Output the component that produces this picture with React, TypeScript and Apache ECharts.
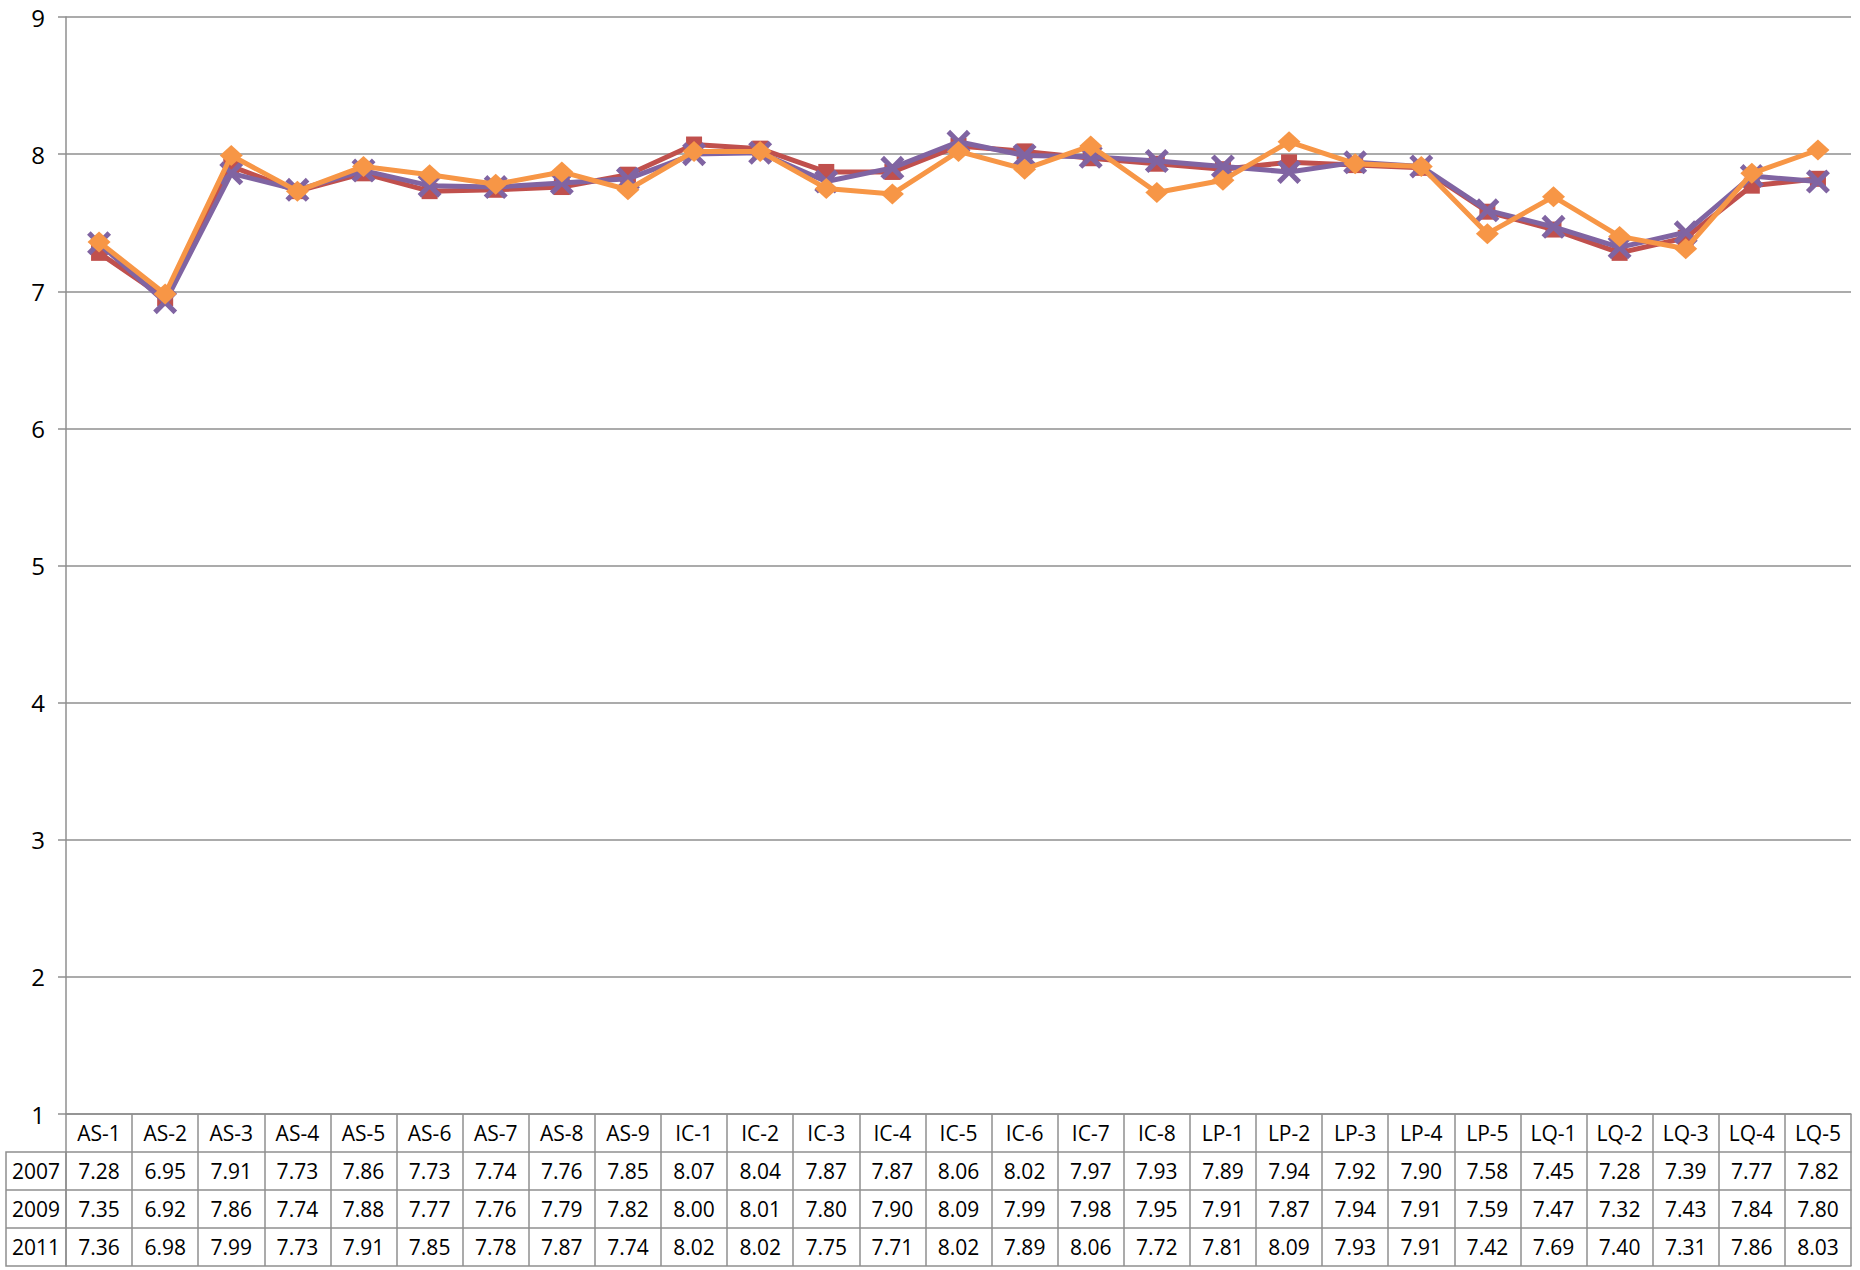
import React, { useEffect, useRef } from "react";
import * as echarts from "echarts";

const CATEGORIES = [
  "AS-1", "AS-2", "AS-3", "AS-4", "AS-5", "AS-6", "AS-7", "AS-8", "AS-9",
  "IC-1", "IC-2", "IC-3", "IC-4", "IC-5", "IC-6", "IC-7", "IC-8",
  "LP-1", "LP-2", "LP-3", "LP-4", "LP-5",
  "LQ-1", "LQ-2", "LQ-3", "LQ-4", "LQ-5",
];
const SERIES_NAMES = ["2007", "2009", "2011"];
const V2007 = [7.28, 6.95, 7.91, 7.73, 7.86, 7.73, 7.74, 7.76, 7.85, 8.07, 8.04, 7.87, 7.87, 8.06, 8.02, 7.97, 7.93, 7.89, 7.94, 7.92, 7.90, 7.58, 7.45, 7.28, 7.39, 7.77, 7.82];
const V2009 = [7.35, 6.92, 7.86, 7.74, 7.88, 7.77, 7.76, 7.79, 7.82, 8.00, 8.01, 7.80, 7.90, 8.09, 7.99, 7.98, 7.95, 7.91, 7.87, 7.94, 7.91, 7.59, 7.47, 7.32, 7.43, 7.84, 7.80];
const V2011 = [7.36, 6.98, 7.99, 7.73, 7.91, 7.85, 7.78, 7.87, 7.74, 8.02, 8.02, 7.75, 7.71, 8.02, 7.89, 8.06, 7.72, 7.81, 8.09, 7.93, 7.91, 7.42, 7.69, 7.40, 7.31, 7.86, 8.03];
const Y_MIN = 1;
const Y_MAX = 9;
const Y_INTERVAL = 1;

const SERIES_VALUES = [V2007, V2009, V2011];
const COLORS = ["#C0504D", "#8064A2", "#F79646"];
const X_PATH =
  "path://M1.5,0 L5,3.5 L8.5,0 L10,1.5 L6.5,5 L10,8.5 L8.5,10 L5,6.5 L1.5,10 L0,8.5 L3.5,5 L0,1.5 Z";
const SYMBOLS: any[] = ["rect", X_PATH, "diamond"];
const SYMBOL_SIZES: any[] = [16, 24, [23, 21]];

const W = 1860;
const H = 1270;
const GRID_LEFT = 66;
const GRID_RIGHT = 9;
const GRID_TOP = 17;
const GRID_BOTTOM = 156;
const ROW_H = 38;
const TABLE_LEFT = 6;
const LINE_COLOR = "#8f8f8f";
const FONT = "'Open Sans', 'Liberation Sans', sans-serif";
const TABLE_FONT_SIZE = 21;

export default function App() {
  const ref = useRef<HTMLDivElement>(null);

  useEffect(() => {
    if (!ref.current) return;
    const chart = echarts.init(ref.current, null, { renderer: "svg" });
    const axisBottomY = H - GRID_BOTTOM;

    const labelStyle = {
      interval: 0,
      margin: 0,
      lineHeight: ROW_H,
      fontSize: TABLE_FONT_SIZE,
      color: "#000",
      fontFamily: FONT,
    };

    const xAxes: any[] = [
      {
        type: "category",
        data: CATEGORIES,
        position: "bottom",
        gridIndex: 0,
        boundaryGap: true,
        axisLine: { show: true, lineStyle: { color: LINE_COLOR, width: 1.5 } },
        axisTick: {
          show: true,
          interval: 0,
          length: ROW_H * 4,
          lineStyle: { color: LINE_COLOR, width: 1.5 },
        },
        axisLabel: labelStyle,
        splitLine: { show: false },
      },
    ];
    SERIES_VALUES.forEach((vals, k) => {
      xAxes.push({
        type: "category",
        data: CATEGORIES,
        position: "bottom",
        gridIndex: 0,
        offset: ROW_H * (k + 1),
        boundaryGap: true,
        axisLine: { show: true, lineStyle: { color: LINE_COLOR, width: 1.5 } },
        axisTick: { show: false },
        axisLabel: {
          ...labelStyle,
          formatter: (_v: string, i: number) => vals[i].toFixed(2),
        },
        splitLine: { show: false },
      });
    });
    xAxes.push({
      type: "category",
      data: CATEGORIES,
      position: "bottom",
      gridIndex: 0,
      offset: ROW_H * 4,
      axisLine: { show: true, lineStyle: { color: LINE_COLOR, width: 1.5 } },
      axisTick: { show: false },
      axisLabel: { show: false },
      splitLine: { show: false },
    });

    const graphics: any[] = [];
    const tableTop = axisBottomY + ROW_H;
    graphics.push({
      type: "rect",
      shape: { x: TABLE_LEFT, y: tableTop, width: GRID_LEFT - TABLE_LEFT, height: ROW_H * 3 },
      style: { fill: "none", stroke: LINE_COLOR, lineWidth: 1.5 },
    });
    for (let k = 1; k < 3; k++) {
      graphics.push({
        type: "line",
        shape: { x1: TABLE_LEFT, y1: tableTop + ROW_H * k, x2: GRID_LEFT, y2: tableTop + ROW_H * k },
        style: { stroke: LINE_COLOR, lineWidth: 1.5 },
      });
    }
    SERIES_NAMES.forEach((name, k) => {
      graphics.push({
        type: "text",
        x: (TABLE_LEFT + GRID_LEFT) / 2,
        y: tableTop + ROW_H * k + ROW_H / 2,
        style: {
          text: name,
          fontSize: TABLE_FONT_SIZE,
          fontFamily: FONT,
          fill: "#000",
          align: "center",
          verticalAlign: "middle",
        },
      });
    });

    chart.setOption({
      animation: false,
      backgroundColor: "#fff",
      grid: {
        left: GRID_LEFT,
        right: GRID_RIGHT,
        top: GRID_TOP,
        bottom: GRID_BOTTOM,
        containLabel: false,
      },
      xAxis: xAxes,
      yAxis: {
        type: "value",
        min: Y_MIN,
        max: Y_MAX,
        interval: Y_INTERVAL,
        axisLine: { show: true, lineStyle: { color: LINE_COLOR, width: 1.5 } },
        axisTick: { show: true, length: 8, lineStyle: { color: LINE_COLOR, width: 1.5 } },
        axisLabel: { fontSize: 24, margin: 21, color: "#000", fontFamily: FONT },
        splitLine: { show: true, lineStyle: { color: LINE_COLOR, width: 1.5 } },
      },
      series: SERIES_NAMES.map((name, k) => ({
        name,
        type: "line",
        xAxisIndex: 0,
        yAxisIndex: 0,
        data: SERIES_VALUES[k],
        symbol: SYMBOLS[k],
        symbolSize: SYMBOL_SIZES[k],
        showSymbol: true,
        lineStyle: { color: COLORS[k], width: 5 },
        itemStyle: { color: COLORS[k], borderWidth: 0 },
        emphasis: { disabled: true },
        z: 2 + k,
      })),
      graphic: graphics,
    });

    return () => chart.dispose();
  }, []);

  return (
    <div
      ref={ref}
      style={{ position: "fixed", left: 0, top: 0, width: W, height: H, background: "#fff" }}
    />
  );
}
